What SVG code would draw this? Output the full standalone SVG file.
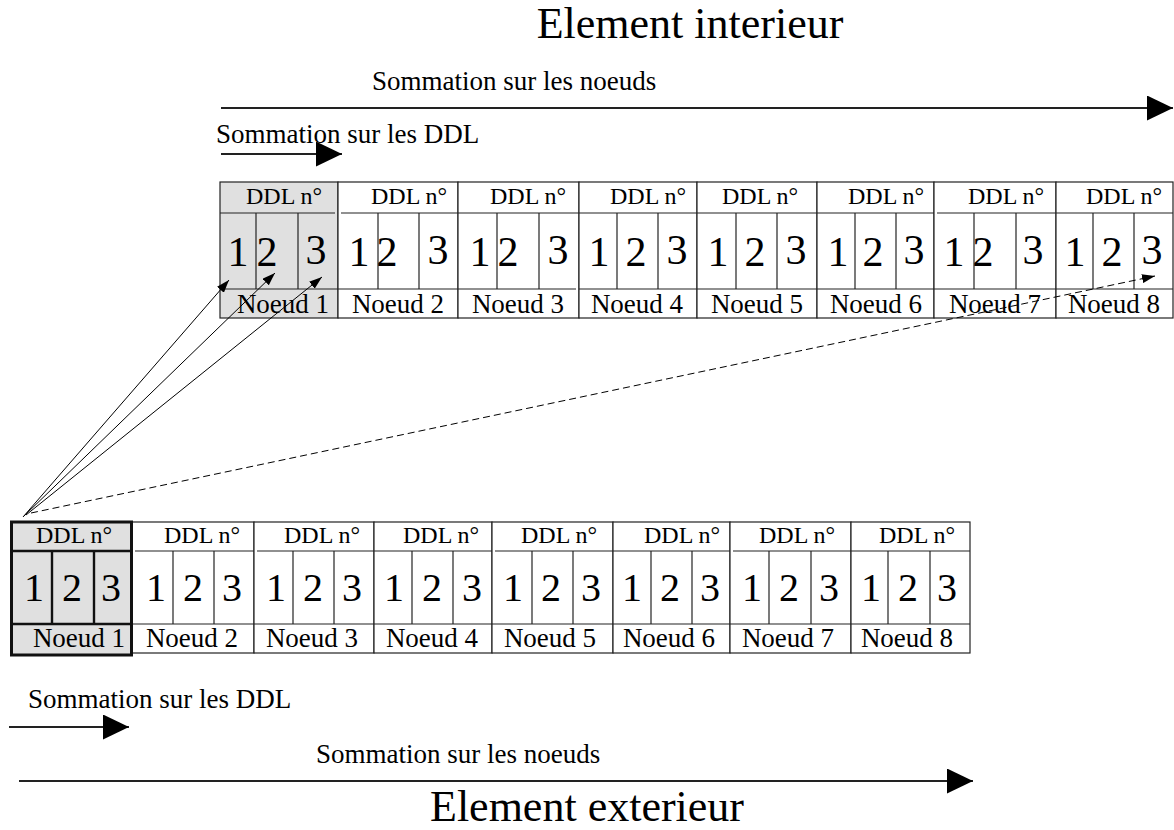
<svg xmlns="http://www.w3.org/2000/svg" width="1174" height="830" viewBox="0 0 1174 830">
<style>
.t{font-family:"Liberation Serif","Times New Roman",serif;fill:#000}
.title{font-size:44px;text-anchor:middle}
.lab{font-size:27px}
.ddl{font-size:24px;text-anchor:end}
.nd{font-size:27px;text-anchor:middle}
.dt{font-size:42px;text-anchor:middle}
.db{font-size:40px;text-anchor:middle}
.cell{fill:#fff;stroke:#222;stroke-width:1.2}
.gray{fill:#e0e0e0}
.ln{stroke:#222;stroke-width:1.2;fill:none}
.thk{stroke:#111;stroke-width:3;fill:none}
.thk2{stroke:#111;stroke-width:2.4;fill:none}
.big{stroke:#222;stroke-width:2;fill:none}
.con{stroke:#000;stroke-width:1;fill:none}
.dash{stroke:#000;stroke-width:1;fill:none;stroke-dasharray:7 4}
</style>
<defs>
<marker id="bigHead" markerUnits="userSpaceOnUse" viewBox="0 0 26 25" refX="26" refY="12.5" markerWidth="26" markerHeight="25" orient="auto"><path d="M0,0 L26,12.5 L0,25 z" fill="#000"/></marker>
<marker id="smallHead" markerUnits="userSpaceOnUse" viewBox="0 0 13 9" refX="13" refY="4.5" markerWidth="13" markerHeight="9" orient="auto"><path d="M0,0 L13,4.5 L0,9 z" fill="#000"/></marker>
</defs>

<text class="t title" x="690" y="38">Element interieur</text>
<text class="t lab" x="372" y="90">Sommation sur les noeuds</text>
<text class="t lab" x="216" y="143">Sommation sur les DDL</text>

<g id="top-table">
<g id="top-node-1">
<rect class="cell gray" x="220" y="182" width="118" height="136"/>
<line class="ln" x1="220" y1="213" x2="335" y2="213"/><line class="ln" x1="220" y1="289" x2="338" y2="289"/>
<line class="ln" x1="256" y1="213" x2="256" y2="289"/><line class="ln" x1="298" y1="213" x2="298" y2="289"/>
<text class="t ddl" x="322" y="204">DDL n°</text>
<text class="t dt" x="238" y="266">1</text><text class="t dt" x="267" y="266">2</text><text class="t dt" x="316" y="264">3</text>
<text class="t nd" x="283" y="313">Noeud 1</text>
</g>
<g id="top-node-2">
<rect class="cell" x="338" y="182" width="120" height="136"/>
<line class="ln" x1="341" y1="213" x2="458" y2="213"/><line class="ln" x1="338" y1="289" x2="458" y2="289"/>
<line class="ln" x1="378" y1="213" x2="378" y2="289"/><line class="ln" x1="419" y1="213" x2="419" y2="289"/>
<text class="t ddl" x="447" y="204">DDL n°</text>
<text class="t dt" x="359" y="266">1</text><text class="t dt" x="387" y="266">2</text><text class="t dt" x="438" y="264">3</text>
<text class="t nd" x="398" y="313">Noeud 2</text>
</g>
<g id="top-node-3">
<rect class="cell" x="458" y="182" width="121" height="136"/>
<line class="ln" x1="458" y1="213" x2="579" y2="213"/><line class="ln" x1="458" y1="289" x2="576" y2="289"/>
<line class="ln" x1="497" y1="213" x2="497" y2="289"/><line class="ln" x1="539" y1="213" x2="539" y2="289"/>
<text class="t ddl" x="566" y="204">DDL n°</text>
<text class="t dt" x="480" y="266">1</text><text class="t dt" x="508" y="266">2</text><text class="t dt" x="558" y="264">3</text>
<text class="t nd" x="518" y="313">Noeud 3</text>
</g>
<g id="top-node-4">
<rect class="cell" x="579" y="182" width="118" height="136"/>
<line class="ln" x1="579" y1="213" x2="697" y2="213"/><line class="ln" x1="579" y1="289" x2="697" y2="289"/>
<line class="ln" x1="617" y1="213" x2="617" y2="289"/><line class="ln" x1="658" y1="213" x2="658" y2="289"/>
<text class="t ddl" x="686" y="204">DDL n°</text>
<text class="t dt" x="599" y="266">1</text><text class="t dt" x="636" y="266">2</text><text class="t dt" x="677" y="264">3</text>
<text class="t nd" x="637" y="313">Noeud 4</text>
</g>
<g id="top-node-5">
<rect class="cell" x="697" y="182" width="120" height="136"/>
<line class="ln" x1="697" y1="213" x2="817" y2="213"/><line class="ln" x1="697" y1="289" x2="817" y2="289"/>
<line class="ln" x1="736" y1="213" x2="736" y2="289"/><line class="ln" x1="777" y1="213" x2="777" y2="289"/>
<text class="t ddl" x="798" y="204">DDL n°</text>
<text class="t dt" x="718" y="266">1</text><text class="t dt" x="755" y="266">2</text><text class="t dt" x="796" y="264">3</text>
<text class="t nd" x="757" y="313">Noeud 5</text>
</g>
<g id="top-node-6">
<rect class="cell" x="817" y="182" width="117" height="136"/>
<line class="ln" x1="817" y1="213" x2="934" y2="213"/><line class="ln" x1="817" y1="289" x2="934" y2="289"/>
<line class="ln" x1="855" y1="213" x2="855" y2="289"/><line class="ln" x1="896" y1="213" x2="896" y2="289"/>
<text class="t ddl" x="924" y="204">DDL n°</text>
<text class="t dt" x="838" y="266">1</text><text class="t dt" x="873" y="266">2</text><text class="t dt" x="914" y="264">3</text>
<text class="t nd" x="876" y="313">Noeud 6</text>
</g>
<g id="top-node-7">
<rect class="cell" x="934" y="182" width="122" height="136"/>
<line class="ln" x1="937" y1="213" x2="1056" y2="213"/><line class="ln" x1="934" y1="289" x2="1056" y2="289"/>
<line class="ln" x1="974" y1="213" x2="974" y2="289"/><line class="ln" x1="1016" y1="213" x2="1016" y2="289"/>
<text class="t ddl" x="1044" y="204">DDL n°</text>
<text class="t dt" x="954" y="266">1</text><text class="t dt" x="983" y="266">2</text><text class="t dt" x="1033" y="264">3</text>
<text class="t nd" x="995" y="313">Noeud 7</text>
</g>
<g id="top-node-8">
<rect class="cell" x="1056" y="182" width="117" height="136"/>
<line class="ln" x1="1056" y1="213" x2="1173" y2="213"/><line class="ln" x1="1056" y1="289" x2="1173" y2="289"/>
<line class="ln" x1="1093" y1="213" x2="1093" y2="289"/><line class="ln" x1="1134" y1="213" x2="1134" y2="289"/>
<text class="t ddl" x="1162" y="204">DDL n°</text>
<text class="t dt" x="1075" y="266">1</text><text class="t dt" x="1112" y="266">2</text><text class="t dt" x="1152" y="264">3</text>
<text class="t nd" x="1114" y="313">Noeud 8</text>
</g>
</g>

<g id="bottom-table">
<g id="bottom-node-2">
<rect class="cell" x="132" y="522" width="122" height="131"/>
<line class="ln" x1="135" y1="551" x2="254" y2="551"/><line class="ln" x1="132" y1="624" x2="254" y2="624"/>
<line class="ln" x1="173" y1="551" x2="173" y2="624"/><line class="ln" x1="214" y1="551" x2="214" y2="624"/>
<text class="t ddl" x="240" y="543">DDL n°</text>
<text class="t db" x="156" y="601">1</text><text class="t db" x="193" y="601">2</text><text class="t db" x="232" y="601">3</text>
<text class="t nd" x="192" y="647">Noeud 2</text>
</g>
<g id="bottom-node-3">
<rect class="cell" x="254" y="522" width="120" height="131"/>
<line class="ln" x1="257" y1="551" x2="374" y2="551"/><line class="ln" x1="254" y1="624" x2="374" y2="624"/>
<line class="ln" x1="293" y1="551" x2="293" y2="624"/><line class="ln" x1="334" y1="551" x2="334" y2="624"/>
<text class="t ddl" x="360" y="543">DDL n°</text>
<text class="t db" x="276" y="601">1</text><text class="t db" x="313" y="601">2</text><text class="t db" x="352" y="601">3</text>
<text class="t nd" x="312" y="647">Noeud 3</text>
</g>
<g id="bottom-node-4">
<rect class="cell" x="374" y="522" width="118" height="131"/>
<line class="ln" x1="374" y1="551" x2="492" y2="551"/><line class="ln" x1="374" y1="624" x2="492" y2="624"/>
<line class="ln" x1="412" y1="551" x2="412" y2="624"/><line class="ln" x1="453" y1="551" x2="453" y2="624"/>
<text class="t ddl" x="479" y="543">DDL n°</text>
<text class="t db" x="394" y="601">1</text><text class="t db" x="432" y="601">2</text><text class="t db" x="472" y="601">3</text>
<text class="t nd" x="432" y="647">Noeud 4</text>
</g>
<g id="bottom-node-5">
<rect class="cell" x="492" y="522" width="121" height="131"/>
<line class="ln" x1="495" y1="551" x2="613" y2="551"/><line class="ln" x1="492" y1="624" x2="613" y2="624"/>
<line class="ln" x1="532" y1="551" x2="532" y2="624"/><line class="ln" x1="573" y1="551" x2="573" y2="624"/>
<text class="t ddl" x="597" y="543">DDL n°</text>
<text class="t db" x="513" y="601">1</text><text class="t db" x="551" y="601">2</text><text class="t db" x="591" y="601">3</text>
<text class="t nd" x="550" y="647">Noeud 5</text>
</g>
<g id="bottom-node-6">
<rect class="cell" x="613" y="522" width="117" height="131"/>
<line class="ln" x1="613" y1="551" x2="730" y2="551"/><line class="ln" x1="613" y1="624" x2="730" y2="624"/>
<line class="ln" x1="651" y1="551" x2="651" y2="624"/><line class="ln" x1="692" y1="551" x2="692" y2="624"/>
<text class="t ddl" x="720" y="543">DDL n°</text>
<text class="t db" x="632" y="601">1</text><text class="t db" x="670" y="601">2</text><text class="t db" x="710" y="601">3</text>
<text class="t nd" x="669" y="647">Noeud 6</text>
</g>
<g id="bottom-node-7">
<rect class="cell" x="730" y="522" width="121" height="131"/>
<line class="ln" x1="733" y1="551" x2="851" y2="551"/><line class="ln" x1="730" y1="624" x2="851" y2="624"/>
<line class="ln" x1="769" y1="551" x2="769" y2="624"/><line class="ln" x1="811" y1="551" x2="811" y2="624"/>
<text class="t ddl" x="835" y="543">DDL n°</text>
<text class="t db" x="752" y="601">1</text><text class="t db" x="789" y="601">2</text><text class="t db" x="829" y="601">3</text>
<text class="t nd" x="788" y="647">Noeud 7</text>
</g>
<g id="bottom-node-8">
<rect class="cell" x="851" y="522" width="119" height="131"/>
<line class="ln" x1="851" y1="551" x2="970" y2="551"/><line class="ln" x1="851" y1="624" x2="970" y2="624"/>
<line class="ln" x1="888" y1="551" x2="888" y2="624"/><line class="ln" x1="930" y1="551" x2="930" y2="624"/>
<text class="t ddl" x="955" y="543">DDL n°</text>
<text class="t db" x="871" y="601">1</text><text class="t db" x="908" y="601">2</text><text class="t db" x="947" y="601">3</text>
<text class="t nd" x="907" y="647">Noeud 8</text>
</g>
<g id="bottom-node-1">
<rect class="gray" x="11" y="522" width="121" height="133"/>
<rect class="thk" x="11.5" y="522" width="120" height="133"/>
<line class="thk2" x1="11" y1="551" x2="132" y2="551"/><line class="thk2" x1="11" y1="624" x2="132" y2="624"/>
<line class="thk2" x1="52" y1="551" x2="52" y2="624"/><line class="thk2" x1="94" y1="551" x2="94" y2="624"/>
<text class="t ddl" x="112" y="543">DDL n°</text>
<text class="t db" x="34" y="601">1</text><text class="t db" x="72" y="601">2</text><text class="t db" x="111" y="601">3</text>
<text class="t nd" x="79" y="647">Noeud 1</text>
</g>
</g>

<g id="connectors">
<line class="big" x1="221" y1="108" x2="1173" y2="108" marker-end="url(#bigHead)"/>
<line class="big" x1="221" y1="154" x2="342" y2="154" marker-end="url(#bigHead)"/>
<line class="big" x1="9" y1="727" x2="129" y2="727" marker-end="url(#bigHead)"/>
<line class="big" x1="19" y1="781" x2="973" y2="781" marker-end="url(#bigHead)"/>
<line class="con" x1="23" y1="517" x2="229" y2="280" marker-end="url(#smallHead)"/>
<line class="con" x1="24" y1="516" x2="275" y2="273" marker-end="url(#smallHead)"/>
<line class="con" x1="26" y1="515" x2="322" y2="277" marker-end="url(#smallHead)"/>
<line class="dash" x1="31" y1="513" x2="1155" y2="276" marker-end="url(#smallHead)"/>
</g>

<text class="t lab" x="316" y="763">Sommation sur les noeuds</text>
<text class="t lab" x="28" y="708">Sommation sur les DDL</text>
<text class="t title" x="587" y="821">Element exterieur</text>
</svg>
